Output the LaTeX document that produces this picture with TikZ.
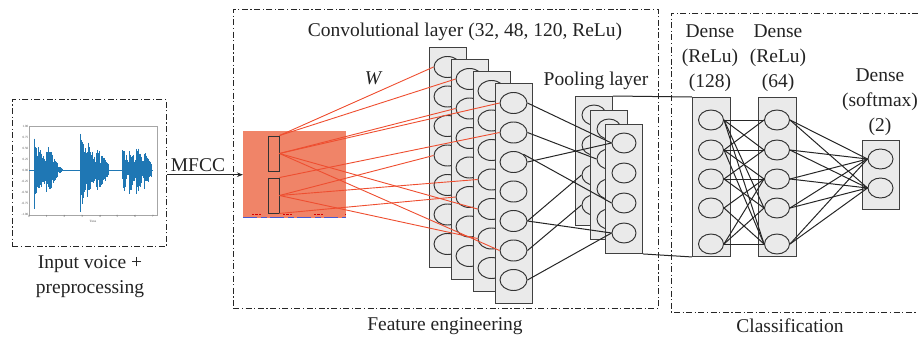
\documentclass[tikz,border=0pt]{standalone}
\usepackage{fontspec}
\setmainfont{Liberation Serif}
\usetikzlibrary{shapes.geometric,arrows.meta}
\definecolor{redw}{RGB}{238,78,48}
\definecolor{salmon}{RGB}{240,132,104}
\definecolor{wave}{RGB}{31,119,180}
\definecolor{stripe}{RGB}{70,90,210}
\definecolor{panelfill}{RGB}{234,234,234}
\definecolor{txt}{RGB}{35,35,35}
\begin{document}
\begin{tikzpicture}[x=1pt,y=-1pt,
  dd/.style={draw=black!85, line width=0.9pt, dash pattern=on 6pt off 2.5pt on 1.2pt off 2.5pt},
  panel/.style={draw=black!75, fill=panelfill, line width=0.95pt, inner sep=0pt, anchor=north west, rectangle},
  neuron/.style={ellipse, draw=black!80, fill=panelfill, line width=0.95pt, inner sep=0pt},
  redline/.style={draw=redw, line width=0.9pt},
  blk/.style={draw=black!85, line width=1pt},
  lbl/.style={font=\fontsize{19.5}{25}\selectfont, text=txt, align=center, inner sep=0pt},
  tick/.style={font=\fontsize{3.2}{4}\selectfont, text=black!70, inner sep=0.5pt}
]
\useasboundingbox (0,0) rectangle (918,340);

% ---------- input box ----------
\node[dd, rectangle, minimum width=154pt, minimum height=147pt, anchor=north west, inner sep=0pt] (inbox) at (12,99) {};
% waveform plot
\node[draw=black!35, line width=0.4pt, rectangle, minimum width=128pt, minimum height=89pt, anchor=north west, inner sep=0pt] (plot) at (29,125.5) {};
\foreach \v/\lab in {-1/-1.00,-0.75/-0.75,-0.5/-0.50,-0.25/-0.25,0/0.00,0.25/0.25,0.5/0.50,0.75/0.75,1/1.00}
  \node[tick, anchor=east] (yt) at (29,{170-44*\v}) {\lab};
\foreach \v in {0,...,7}
  \node[tick, anchor=north] (xt) at ({29+\v*17.7},215) {\v};
\node[tick, anchor=north] (tl) at (93,219.5) {Time};
\pgfmathsetseed{11}
\foreach \ws/\we/\wa in {0.3/0.5/0.92, 0.5/1.0/0.62, 1.0/1.6/0.58, 1.6/1.9/0.1, 2.9/3.3/1.0, 3.3/3.8/0.66, 3.8/4.5/0.5, 5.3/5.65/0.55, 5.65/6.05/0.58, 6.05/6.5/0.62, 6.5/6.95/0.45}{
  \pgfmathtruncatemacro\wn{(\we-\ws)/0.015}
  \foreach \j in {0,...,\wn}{
    \pgfmathsetmacro\wt{\ws+\j*0.015}
    \pgfmathsetmacro\wf{1-0.7*\j/(\wn+1)}
    \pgfmathsetmacro\wu{\wa*\wf*(0.35+0.65*rnd)}
    \pgfmathsetmacro\wdn{\wa*\wf*(0.35+0.65*rnd)}
    \draw[wave, line width=0.8pt] ({29+\wt*17.7},{170-44*\wu}) -- ({29+\wt*17.7},{170+44*\wdn});
  }
}
\draw[wave, line width=0.8pt] (29,170) -- (153,170);
\node[lbl] (inlabel) at (90,277) {Input voice +\\preprocessing};

% ---------- feature engineering box ----------
\node[dd, rectangle, minimum width=425pt, minimum height=299pt, anchor=north west, inner sep=0pt] (febox) at (233,9) {};
\node[lbl] (felabel) at (445,326) {Feature engineering};
\node[lbl] (convlabel) at (465,32) {Convolutional layer (32, 48, 120, ReLu)};
\node[lbl, font=\fontsize{19.5}{25}\selectfont\itshape] (wlabel) at (373,78) {W};
\node[lbl] (poollabel) at (596,81) {Pooling layer};

% MFCC image
\node[rectangle, fill=salmon, minimum width=103pt, minimum height=87pt, anchor=north west, inner sep=0pt] (mfcc) at (243,131) {};
\draw[stripe, line width=1.6pt, dash pattern=on 14pt off 4pt on 6pt off 3pt] (243,217.5) -- (346,217.5);
\draw[red!85!black, line width=0.9pt, dash pattern=on 2pt off 1pt on 3pt off 1pt on 2pt off 22pt] (252,214.8) -- (346,214.8);
\node[rectangle, draw=black!80, line width=0.9pt, minimum width=11pt, minimum height=35pt, inner sep=0pt] (f1) at (273.5,153.5) {};
\node[rectangle, draw=black!80, line width=0.9pt, minimum width=11pt, minimum height=35pt, inner sep=0pt] (f2) at (273.5,195.5) {};

% arrow MFCC
\draw[blk, -{Stealth[length=6pt,width=4.5pt]}] (mfcc.west -| inbox.east) -- (mfcc.west);
\node[lbl, anchor=south] (mfcclabel) at (198,172) {MFCC};

% conv layers
\foreach \i in {0,...,3}{
  \pgfmathsetmacro\L{429+22*\i}
  \pgfmathsetmacro\T{47+12*\i}
  \node[panel, minimum width=37pt, minimum height=220pt] (c\i) at (\L,\T) {};
  \foreach \k in {0,...,6}
    \node[neuron, minimum width=27pt, minimum height=21pt] (c\i-\k) at ({\L+18.5},{\T+20+29.5*\k}) {};
}

% red weights
\draw[redline] (f1.north east) -- (c0-0.west);
\draw[redline] (f1.north east) -- (c1-0.west);
\draw[redline] (f1.east) -- (c3-0.west);
\draw[redline] (f1.east) -- (c1-1.west);
\draw[redline] (f1.east) -- (c2-4.west);
\draw[redline] (f1.east) -- (c3-5.west);
\draw[redline] (f2.north east) -- (c3-1.west);
\draw[redline] (f2.east) -- (c0-3.west);
\draw[redline] (f2.east) -- (c2-3.west);
\draw[redline] (f2.east) -- (c2-5.west);
\draw[redline] (f2.south east) -- (c1-4.west);

% pooling layers
\foreach \i/\n in {0/A,1/B,2/C}{
  \pgfmathsetmacro\L{575+15*\i}
  \pgfmathsetmacro\T{96+14*\i}
  \node[panel, minimum width=37pt, minimum height=129pt] (p\n) at (\L,\T) {};
  \foreach \k in {0,...,3}
    \node[neuron, minimum width=24pt, minimum height=20pt] (p\n-\k) at ({\L+19},{\T+19+30*\k}) {};
}

% conv -> pool
\draw[blk] (c3-0.east) -- (pC-0.west);
\draw[blk] (c3-1.east) -- (pB-1.west);
\draw[blk] (c3-2.east) -- (pC-0.west);
\draw[blk] (c3-2.north east) -- (pC-2.west);
\draw[blk] (c3-4.east) -- (pA-2.west);
\draw[blk] (c3-4.east) -- (pC-3.west);
\draw[blk] (c3-5.east) -- (pA-3.west);
\draw[blk] (c3-6.east) -- (pC-3.west);

% ---------- classification box ----------
\draw[dd] (918,13) -- (671,13) -- (671,312) -- (918,312);
\node[lbl] (cllabel) at (790,326) {Classification};

% dense layers
\node[panel, minimum width=38pt, minimum height=159pt] (d1) at (692,97) {};
\node[panel, minimum width=38pt, minimum height=159pt] (d2) at (758,97) {};
\node[panel, minimum width=37pt, minimum height=69pt] (d3) at (862,140) {};
\foreach \k/\y in {0/120,1/150,2/179,3/208,4/244}{
  \node[neuron, minimum width=25pt, minimum height=20pt] (d1-\k) at (711,\y) {};
  \node[neuron, minimum width=25pt, minimum height=20pt] (d2-\k) at (777,\y) {};
}
\node[neuron, minimum width=25pt, minimum height=20pt] (d3-0) at (880.5,159) {};
\node[neuron, minimum width=25pt, minimum height=20pt] (d3-1) at (880.5,188) {};

\node[lbl] (d1label) at (710,58) {Dense\\(ReLu)\\(128)};
\node[lbl] (d2label) at (778,58) {Dense\\(ReLu)\\(64)};
\node[lbl] (d3label) at (880,102) {Dense\\(softmax)\\(2)};

% pool -> dense
\draw[blk] (pA.north east) -- (d1.north west);
\draw[blk] (pC.south east) -- (d1.south west);

% dense1 -> dense2
\foreach \a/\b in {0/0,0/1,0/3,0/4,1/0,1/1,1/2,1/4,2/1,2/2,2/3,3/2,3/4,4/2,4/3,4/4}
  \draw[blk] (d1-\a.east) -- (d2-\b.west);
% dense2 -> dense3
\foreach \a in {0,...,4}{
  \draw[blk] (d2-\a.east) -- (d3-0.west);
  \draw[blk] (d2-\a.east) -- (d3-1.west);
}
\end{tikzpicture}
\end{document}
